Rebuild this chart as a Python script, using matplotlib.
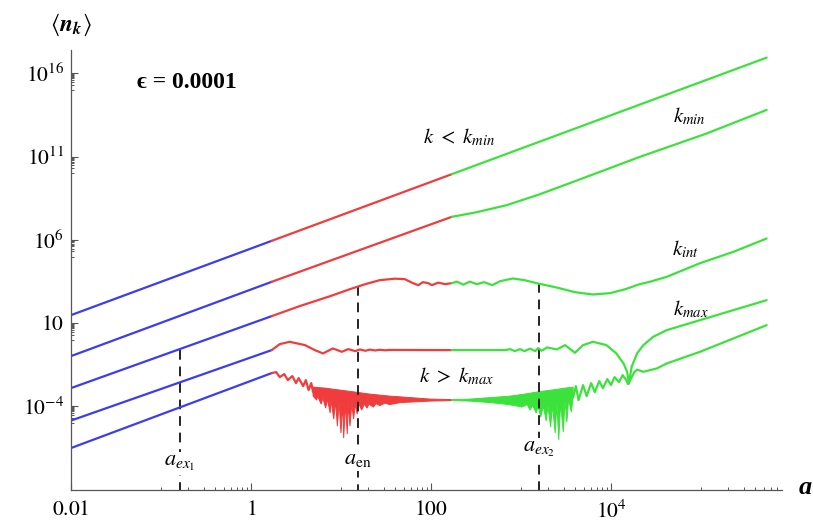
import numpy as np
import matplotlib.pyplot as plt
from matplotlib.ticker import FixedLocator, FixedFormatter, NullFormatter

plt.rcParams['font.family'] = ['Liberation Serif', 'DejaVu Serif']
plt.rcParams['mathtext.fontset'] = 'stix'

BLUE, RED, GREEN = '#3c3cf0', '#f03c3c', '#3ce23c'

# colour changes at these log10(a)
la_br, la_rg = 0.23, 2.23

# curves as log10(a), log10(<n_k>)
loga_1 = [-2, 0.23, 2.23, 5.73]
logn_1 = [1.48, 5.94, 9.94, 16.94]

loga_2 = [-2, 0.23, 2.23, 2.5, 2.84, 3.2, 3.58, 4.32, 5.06, 5.73]
logn_2 = [-0.98, 3.48, 7.38, 7.65, 8.08, 8.72, 9.48, 10.98, 12.38, 13.8]

loga_3 = [-2, 0.23, 0.54, 0.88, 1.10, 1.27, 1.43, 1.60, 1.71, 1.80, 1.86, 1.91,
          1.97, 2.01, 2.08, 2.16, 2.23, 2.29, 2.36, 2.43, 2.51, 2.59, 2.68, 2.77,
          2.91, 3.04, 3.19, 3.38, 3.60, 3.80, 3.99, 4.16, 4.32, 4.43, 4.62, 4.99,
          5.36, 5.73]
logn_3 = [-2.9, 1.42, 2.02, 2.62, 3.04, 3.34, 3.58, 3.67, 3.64, 3.40, 3.28, 3.46,
          3.40, 3.28, 3.43, 3.34, 3.40, 3.49, 3.31, 3.49, 3.34, 3.46, 3.28, 3.52,
          3.68, 3.58, 3.38, 3.16, 2.86, 2.72, 2.80, 3.04, 3.34, 3.48, 3.78, 4.6,
          5.28, 6.08]

loga_4 = [-2, 0.23, 0.32, 0.43, 0.60, 0.71, 0.80, 0.91, 1.01, 1.08, 1.16, 1.21,
          1.27, 1.32, 1.38, 1.43, 1.49, 1.54, 2.23, 2.82, 2.88, 2.93, 2.99, 3.04,
          3.10, 3.16, 3.19, 3.23, 3.29, 3.40, 3.49, 3.60, 3.69, 3.80, 3.95, 4.06,
          4.14, 4.18, 4.20, 4.23, 4.29, 4.36, 4.47, 4.62, 4.99, 5.36, 5.73]
logn_4 = [-4.85, -0.62, -0.26, -0.12, -0.32, -0.62, -0.82, -0.52, -0.72, -0.56,
          -0.68, -0.58, -0.66, -0.59, -0.64, -0.6, -0.63, -0.61, -0.62, -0.62,
          -0.56, -0.68, -0.56, -0.68, -0.53, -0.68, -0.5, -0.66, -0.46, -0.58,
          -0.32, -0.78, -0.32, -0.12, -0.32, -0.82, -1.42, -1.92, -2.62, -1.62,
          -0.82, -0.32, 0.18, 0.58, 1.18, 1.78, 2.38]

# lowest curve: smooth parts (the dense oscillations are drawn as bands below)
loga_5 = [-2, 0.23, 0.28, 0.32, 0.37, 0.41, 0.46, 0.50, 0.53, 0.58, 0.61, 0.64,
          0.67, 0.69,
          3.58, 3.61, 3.64, 3.69, 3.73, 3.78, 3.82, 3.87, 3.91, 3.96, 4.00, 4.04,
          4.09, 4.13, 4.17, 4.19, 4.26, 4.29, 4.36, 4.51, 4.62, 4.99, 5.36, 5.73]
logn_5 = [-6.5, -2.0, -1.94, -2.24, -2.06, -2.42, -2.18, -2.6, -2.3, -2.78, -2.42,
          -3.02, -2.6, -3.14,
          -3.44, -2.78, -3.62, -2.72, -3.38, -2.6, -3.14, -2.48, -2.9, -2.36,
          -2.72, -2.24, -2.54, -2.12, -2.42, -2.66, -1.94, -1.79, -1.92, -1.72,
          -1.42, -0.72, 0.08, 0.88]

# dense oscillation of the lowest curve: upper edge and spiky lower edge
red_up_a = [0.69, 0.82, 0.99, 1.16, 1.32, 1.54, 1.77, 1.99, 2.23]
red_up_n = [-2.84, -2.9, -3.02, -3.14, -3.26, -3.38, -3.47, -3.56, -3.59]
red_lo_a = [0.69, 0.73, 0.74, 0.78, 0.80, 0.83, 0.85, 0.88, 0.89, 0.92, 0.94, 0.96,
            0.98, 1.00, 1.02, 1.03, 1.05, 1.07, 1.08, 1.10, 1.12, 1.14, 1.16, 1.18,
            1.20, 1.23, 1.26, 1.29, 1.31, 1.36, 1.39, 1.43, 1.49, 1.54, 1.66, 1.77,
            1.99, 2.23]
red_lo_n = [-3.38, -3.62, -3.38, -3.86, -3.5, -4.1, -3.56, -4.4, -3.62, -4.76,
            -3.68, -5.18, -3.74, -5.6, -3.8, -5.9, -3.86, -5.66, -3.86, -5.18,
            -3.86, -4.76, -3.86, -4.46, -3.86, -4.22, -3.86, -4.1, -3.86, -4.04,
            -3.83, -3.95, -3.8, -3.89, -3.77, -3.74, -3.68, -3.65]

green_up_a = [2.23, 2.43, 2.66, 2.88, 3.04, 3.21, 3.38, 3.49, 3.58]
green_up_n = [-3.59, -3.56, -3.47, -3.38, -3.26, -3.11, -2.99, -2.9, -2.84]
green_lo_a = [2.23, 2.43, 2.66, 2.82, 2.93, 3.01, 3.07, 3.10, 3.13, 3.17, 3.19,
              3.22, 3.25, 3.28, 3.30, 3.33, 3.35, 3.38, 3.40, 3.42, 3.44, 3.47,
              3.49, 3.51, 3.53, 3.56, 3.58]
green_lo_n = [-3.65, -3.68, -3.77, -3.86, -3.95, -4.04, -3.89, -4.22, -3.95, -4.4,
              -3.98, -4.64, -3.98, -4.88, -3.98, -5.24, -3.92, -5.6, -3.86, -6.02,
              -3.8, -5.54, -3.68, -4.94, -3.56, -4.34, -3.44]

# dashed markers: log10(a), top log10(n), label, label log10(n)
marks_a = [-0.79, 1.19, 3.20]
marks_top = [-0.6, 3.2, 3.38]
marks_lab = [r'$a_{ex_1}$', r'$a_{\mathrm{en}}$', r'$a_{ex_2}$']
marks_lab_n = [-7.4, -7.2, -6.6]

fig = plt.figure(figsize=(8.13, 5.26), dpi=100)
ax = fig.add_axes([0.0873, 0.069, 0.8745, 0.836])
ax.set_xscale('log')
ax.set_yscale('log')
ax.set_xlim(0.01, 10**5.9)
ax.set_ylim(1e-9, 10**17.4)


def draw(la, ln, lw=1.6):
    la = np.asarray(la)
    ln = np.asarray(ln)
    for lo, hi, col in [(-9, la_br, BLUE), (la_br, la_rg, RED), (la_rg, 9, GREEN)]:
        m = (la >= lo - 1e-9) & (la <= hi + 1e-9)
        if m.sum() > 1:
            ax.plot(10**la[m], 10**ln[m], color=col, lw=lw,
                    solid_joinstyle='round', solid_capstyle='round')


def band(ua, un, la, ln, col):
    xs = np.r_[ua, la[::-1]]
    ys = np.r_[un, ln[::-1]]
    ax.fill(10**xs, 10**ys, color=col, lw=0.7)


for la, ln in [(loga_1, logn_1), (loga_2, logn_2), (loga_3, logn_3),
               (loga_4, logn_4), (loga_5, logn_5)]:
    draw(la, ln)
band(red_up_a, red_up_n, red_lo_a, red_lo_n, RED)
band(green_up_a, green_up_n, green_lo_a, green_lo_n, GREEN)

for xa, top, lab, yl in zip(marks_a, marks_top, marks_lab, marks_lab_n):
    ax.plot([10**xa, 10**xa], [10**top, 1e-9], color='#222222', lw=1.4,
            ls=(0, (5, 3.5)), zorder=1)
    ax.text(10**xa, 10**yl, lab, fontsize=16, ha='center', va='center',
            bbox=dict(fc='white', ec='none', pad=1.5), zorder=3)

# curve labels
ax.text(10**2.31, 10**12.16, r'$k\ <\ k_{min}$', fontsize=15, ha='center', va='center')
ax.text(10**4.87, 10**13.42, r'$k_{min}$', fontsize=15, ha='center', va='center')
ax.text(10**4.83, 10**5.44, r'$k_{int}$', fontsize=15, ha='center', va='center')
ax.text(10**4.89, 10**1.84, r'$k_{max}$', fontsize=15, ha='center', va='center')
ax.text(10**2.29, 10**-2.18, r'$k\ >\ k_{max}$', fontsize=15, ha='center', va='center')
ax.text(10**-0.71, 10**15.46, '\u03f5 = 0.0001', fontsize=17, fontweight='bold',
        ha='center', va='center')

fig.text(0.0873, 0.953, r'$\langle \mathbfit{n}_{\mathbfit{k}} \rangle$', fontsize=17,
         ha='center', va='center')
fig.text(0.99, 0.074, 'a', fontsize=19, fontweight='bold', fontstyle='italic',
         ha='center', va='center')

# axes in the Mathematica style
for s in ['top', 'right']:
    ax.spines[s].set_visible(False)
for s in ['left', 'bottom']:
    ax.spines[s].set_color('#555555')
    ax.spines[s].set_linewidth(0.9)

ax.xaxis.set_major_locator(FixedLocator([0.01, 1, 100, 1e4]))
ax.xaxis.set_major_formatter(FixedFormatter([r'$0.01$', r'$1$', r'$100$', r'$10^4$']))
ax.xaxis.set_minor_locator(FixedLocator([m * 10.0**d for d in [-1, 1, 3, 5]
                                         for m in range(1, 10)]))
ax.xaxis.set_minor_formatter(NullFormatter())

ax.yaxis.set_major_locator(FixedLocator([1e-4, 10, 1e6, 1e11, 1e16]))
ax.yaxis.set_major_formatter(FixedFormatter([r'$10^{-4}$', r'$10$', r'$10^{6}$',
                                             r'$10^{11}$', r'$10^{16}$']))
ax.yaxis.set_minor_locator(FixedLocator([m * 10.0**(d - 1) for d in [-4, 1, 6, 11, 16]
                                         for m in range(1, 10)]))
ax.yaxis.set_minor_formatter(NullFormatter())

ax.tick_params(which='major', direction='in', length=5, width=0.8, color='#555555',
               labelsize=15.5)
ax.tick_params(which='minor', direction='in', length=2.5, width=0.7, color='#555555')
ax.tick_params(axis='x', pad=8)
ax.tick_params(axis='y', pad=5)

fig.savefig('out.png', dpi=100)
